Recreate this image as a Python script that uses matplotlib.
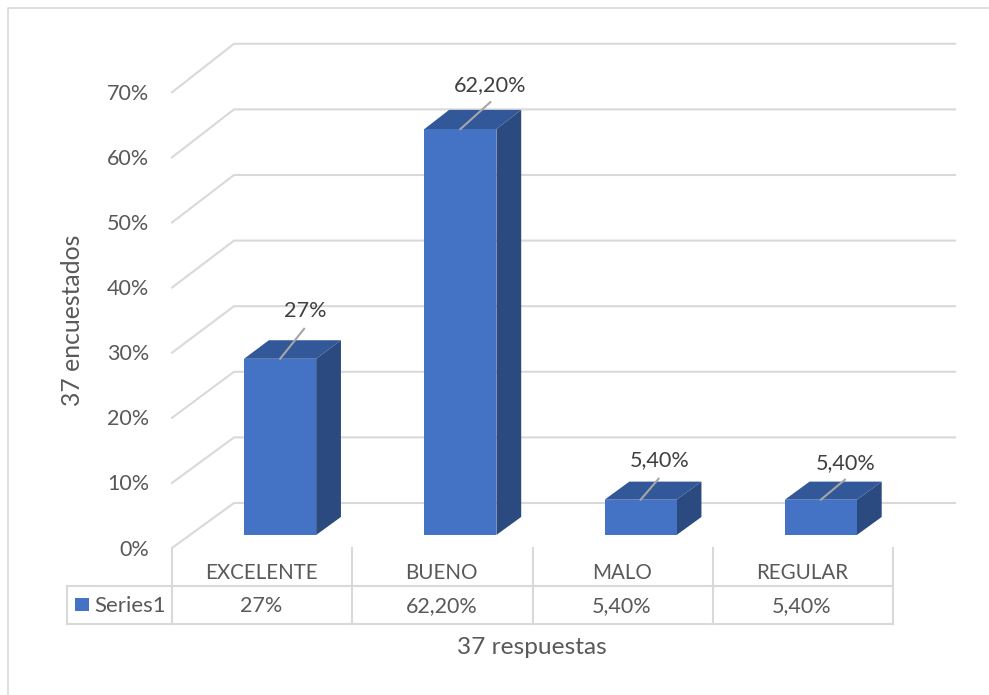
import matplotlib
matplotlib.use('Agg')
import matplotlib.pyplot as plt
from matplotlib.patches import Polygon, Rectangle

plt.rcParams['font.family'] = ['Lato', 'DejaVu Sans']

# Data
categories = ['EXCELENTE', 'BUENO', 'MALO', 'REGULAR']
values = [27, 62.2, 5.4, 5.4]
value_labels = ['27%', '62,20%', '5,40%', '5,40%']
y_ticks = [0, 10, 20, 30, 40, 50, 60, 70]
series_name = 'Series1'

# Style
W, H = 989, 695
GRID = '#D9D9D9'
TEXT = '#595959'
FRONT, TOP, SIDE = '#4472C4', '#335899', '#2A4A80'
PX_X = 180.25           # pixels per category
PX_Y = 6.51             # pixels per percent on the front plane
PERSP = 0.0077          # back wall is drawn slightly taller
X0, Y0 = 172, 548       # pixel position of the origin
DX, DY = 62 / PX_X, 45 / PX_Y   # depth of the wall in data units
BAR_W = 0.4
BAR_D0, BAR_D1 = 0.29, 0.69     # bar front and back, as a share of the depth


def proj(x, y, d=0):
    return (x + d * DX, y * (1 + PERSP * d) + d * DY)


fig = plt.figure(figsize=(W / 100, H / 100), dpi=100)
ax = fig.add_axes([0, 0, 1, 1])
ax.set_xlim(-X0 / PX_X, (W - X0) / PX_X)
ax.set_ylim(-(H - Y0) / PX_Y, Y0 / PX_Y)
ax.axis('off')

# Chart frame, only the left and top edges show
ax.plot([8 / W, 8 / W, 1], [0, 1 - 8 / H, 1 - 8 / H], color=GRID, lw=1.2,
        transform=fig.transFigure, clip_on=False)

# Back wall grid and side wall diagonals
n = len(categories)
for t in y_ticks:
    xa, ya = proj(0, t, 0)
    xb, yb = proj(0, t, 1)
    xc, yc = proj(n, t, 1)
    ax.plot([xa, xb, xc], [ya, yb, yc], color=GRID, lw=1.5, solid_joinstyle='miter')
    ax.text(-23 / PX_X, t - 1.5 / PX_Y, f'{t}%', ha='right', va='center', fontsize=15.5, color=TEXT)

# Bars
for i, v in enumerate(values):
    x0 = i + 0.5 - BAR_W / 2
    x1 = i + 0.5 + BAR_W / 2
    ax.add_patch(Polygon([proj(x1, 0, BAR_D0), proj(x1, v, BAR_D0), proj(x1, v, BAR_D1), proj(x1, 0, BAR_D1)],
                         closed=True, fc=SIDE, ec='none', zorder=3))
    ax.add_patch(Polygon([proj(x0, v, BAR_D0), proj(x1, v, BAR_D0), proj(x1, v, BAR_D1), proj(x0, v, BAR_D1)],
                         closed=True, fc=TOP, ec='none', zorder=3))
    ax.add_patch(Polygon([proj(x0, 0, BAR_D0), proj(x1, 0, BAR_D0), proj(x1, v, BAR_D0), proj(x0, v, BAR_D0)],
                         closed=True, fc=FRONT, ec='none', zorder=4))

# Data labels with leader lines (offsets in pixels from the top of the bar)
label_offsets = [(25, 48), (30, 44), (19, 40), (25, 37)]
leader_ends = [(24, 30), (30, 27), (18, 21), (24, 20)]
for i, v in enumerate(values):
    px, py = proj(i + 0.5, v, BAR_D0)
    ex, ey = leader_ends[i]
    ax.plot([px, px + ex / PX_X], [py, py + ey / PX_Y], color='#A6A6A6', lw=1.5, zorder=5)
    ox, oy = label_offsets[i]
    ax.text(px + ox / PX_X, py + oy / PX_Y, value_labels[i], ha='center', va='center',
            fontsize=15.6, color='#404040', zorder=6)

# Data table under the axis
row_top = -38 / PX_Y
row_bot = -76 / PX_Y
left = -(172 - 67) / PX_X
ax.plot([left, n], [row_top, row_top], color=GRID, lw=1.5)
ax.plot([left, n], [row_bot, row_bot], color=GRID, lw=1.5)
ax.plot([left, left], [row_top, row_bot], color=GRID, lw=1.5)
for i in range(n + 1):
    ax.plot([i, i], [0, row_bot], color=GRID, lw=1.5)
for i, c in enumerate(categories):
    ax.text(i + 0.495, -25 / PX_Y, c, ha='center', va='center', fontsize=14.8, color=TEXT)
    ax.text(i + 0.495, -58 / PX_Y, value_labels[i], ha='center', va='center', fontsize=15.5, color=TEXT)
ax.add_patch(Rectangle((-(172 - 75) / PX_X, -611 / PX_Y + Y0 / PX_Y), 14 / PX_X, 13 / PX_Y, fc=FRONT, ec='none'))
ax.text(-(172 - 94) / PX_X, -58 / PX_Y, series_name, ha='left', va='center', fontsize=16, color=TEXT)

# Axis titles
ax.text((532 - X0) / PX_X, (Y0 - 647) / PX_Y, '37 respuestas', ha='center', va='center', fontsize=17.6, color=TEXT)
ax.text((72 - X0) / PX_X, (Y0 - 320) / PX_Y, '37 encuestados', ha='center', va='center', rotation=90,
        fontsize=17.8, color=TEXT)

fig.savefig('out.png', dpi=100)
